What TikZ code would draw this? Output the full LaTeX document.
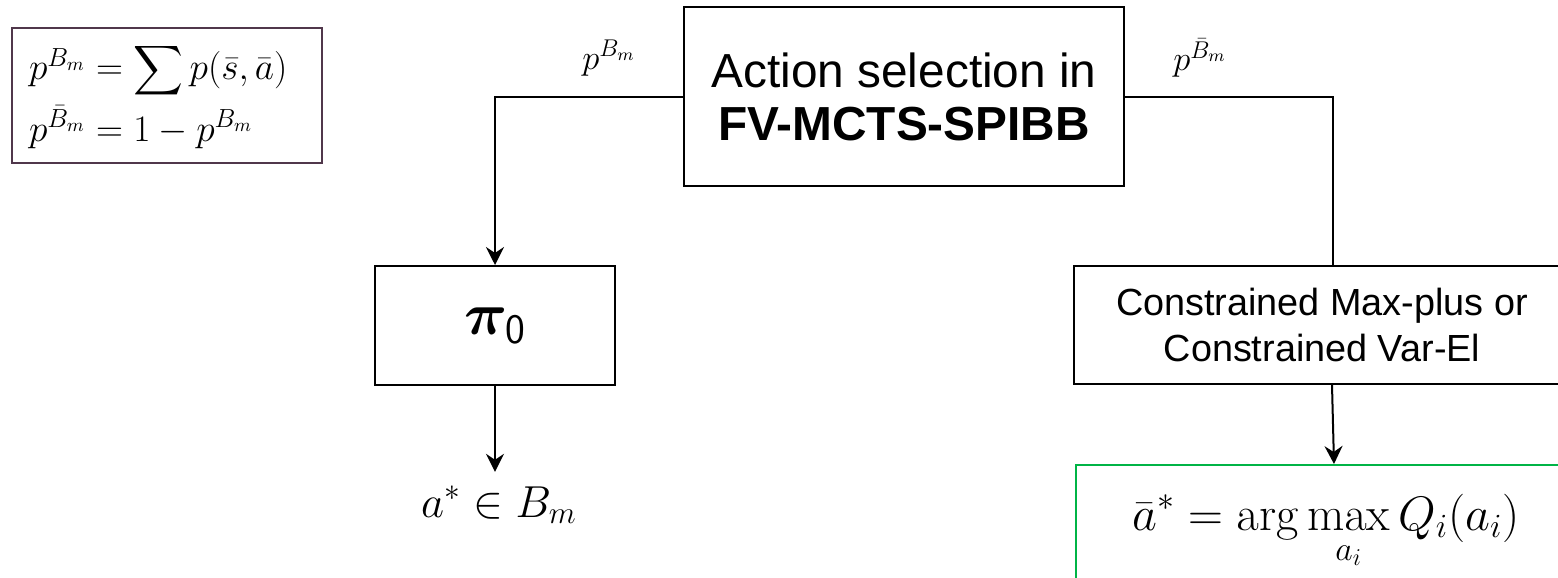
\RequirePackage{fix-cm}
\documentclass[tikz,border=0pt]{standalone}
\usepackage{amsmath,bm}
\usepackage[no-math]{fontspec}
\setmainfont{Liberation Sans}
\usetikzlibrary{arrows.meta}
\definecolor{legendplum}{RGB}{80,55,75}
\definecolor{resultgreen}{RGB}{0,180,70}
\tikzset{
  block/.style={draw, line width=1pt, inner sep=0pt, align=center},
  conn/.style={line width=1pt},
  arr/.style={conn, -{Stealth[length=9pt,width=9pt,inset=3pt]}},
}
\begin{document}
\begin{tikzpicture}[x=0.5pt,y=-0.5pt]
\clip (0,0) rectangle (1558,578);
\node[block, draw=legendplum, minimum width=155pt, minimum height=67.5pt, text width=138pt, align=left, font=\fontsize{18.7}{25.5}\selectfont] (legend) at (167,95.5) {$p^{B_m} = \displaystyle\sum p(\bar{s},\bar{a})$\\[3pt] $p^{\bar{B}_m} = 1 - p^{B_m}$};
\node[block, minimum width=220pt, minimum height=89.5pt, font=\fontsize{23.9}{26.5}\selectfont] (act) at (904,96.5) {Action selection in\\ \textbf{FV-MCTS-SPIBB}};
\node[block, minimum width=120pt, minimum height=59.5pt, font=\fontsize{30}{34}\selectfont] (pi) at (495,325.5) {$\bm{\pi}_{\mathsf{0}}$};
\node[block, minimum width=248pt, minimum height=59pt, font=\fontsize{18.9}{23}\selectfont] (cmp) at (1322,325) {Constrained Max-plus or\\ Constrained Var-El};
\node[block, draw=resultgreen, minimum width=250pt, minimum height=67pt, font=\fontsize{24.2}{28}\selectfont] (res) at (1326,532) {$\displaystyle \bar{a}^* = \arg\max_{a_i} Q_i(a_i)$};
\node[inner sep=0pt, font=\fontsize{22.4}{27}\selectfont] (astar) at (499,505) {$a^* \in B_m$};
\node[font=\fontsize{17.3}{20}\selectfont] (lblB) at (609,58) {$p^{B_m}$};
\node[font=\fontsize{17.3}{20}\selectfont] (lblBbar) at (1200,58) {$p^{\bar{B}_m}$};
\draw[arr] (act.west) -| (pi.north);
\draw[conn] (act.east) -| ([xshift=5.5pt]cmp.north);
\draw[arr] (pi.south) -- ([yshift=7pt]pi.south |- astar.north);
\draw[arr] ([xshift=5pt]cmp.south) -- ([xshift=4pt]res.north);
\end{tikzpicture}
\end{document}
